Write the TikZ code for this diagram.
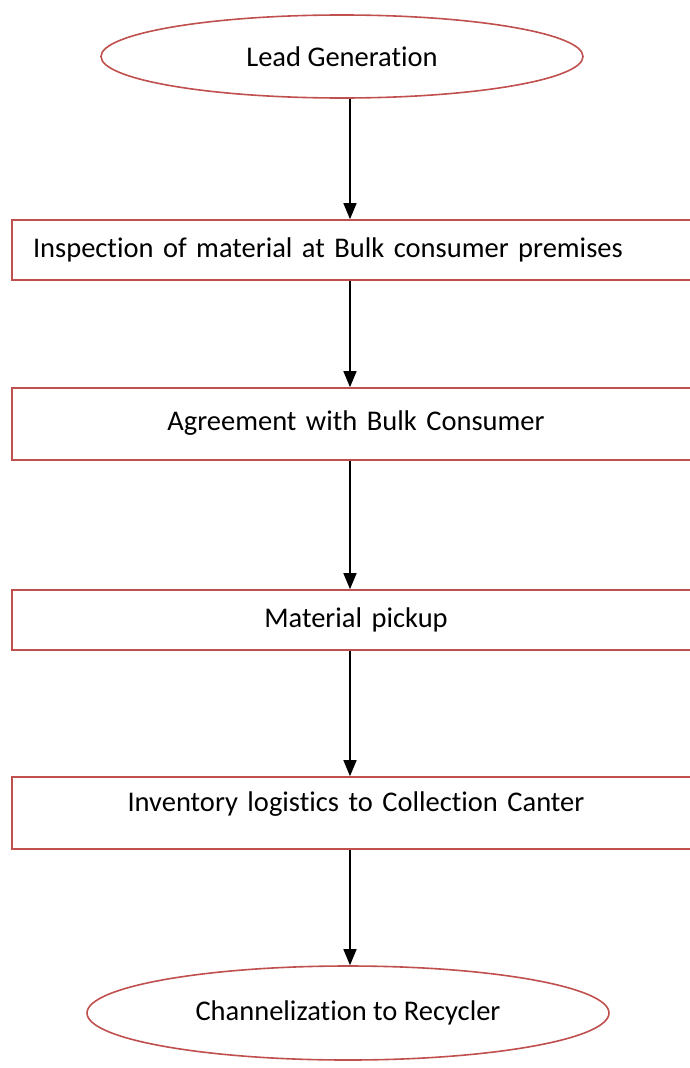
\documentclass[tikz,border=0pt]{standalone}
\usepackage{fontspec}
\setmainfont{Carlito}[Ligatures=NoCommon]
\usepackage{tikz}
\usetikzlibrary{shapes.geometric, arrows.meta}
\definecolor{boxred}{RGB}{192,80,77}
\tikzstyle{oval}=[ellipse, draw=boxred, line width=1.6pt, inner sep=0pt]
\tikzstyle{stepbox}=[rectangle, draw=boxred, line width=1.6pt, minimum width=688, inner xsep=21pt, text width=646pt]
\tikzstyle{arr}=[-{Triangle[length=16pt,width=13pt]}, line width=1.4pt]

\begin{document}
\begin{tikzpicture}[x=1pt, y=-1pt, font=\fontsize{28.5}{33}\selectfont]
      \useasboundingbox (0,0) rectangle (690,1068);

      \node[oval, minimum width=482, minimum height=83] (e1) at (342,56.5) {Lead Generation};

      \node[stepbox, minimum height=60, align=left] (b1) at (356,250) {Inspection of material at Bulk consumer premises};
      \node[stepbox, minimum height=72, align=center, text depth=7pt] (b2) at (356,424) {Agreement with Bulk Consumer};
      \node[stepbox, minimum height=60, align=center] (b3) at (356,620) {Material pickup};
      \node[stepbox, minimum height=72, align=center, text depth=22pt] (b4) at (356,813) {Inventory logistics to Collection Canter};

      \node[oval, minimum width=522, minimum height=94] (e2) at (348,1013) {Channelization to Recycler};

      \coordinate (ax) at (350,0);

      \draw[arr] (e1.south -| ax) -- (b1.north -| ax);
      \draw[arr] (b1.south -| ax) -- (b2.north -| ax);
      \draw[arr] (b2.south -| ax) -- (b3.north -| ax);
      \draw[arr] (b3.south -| ax) -- (b4.north -| ax);
      \draw[arr] (b4.south -| ax) -- (e2.north -| ax);
\end{tikzpicture}
\end{document}
